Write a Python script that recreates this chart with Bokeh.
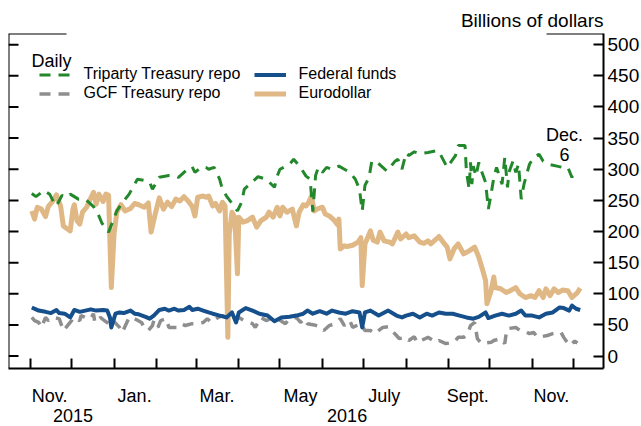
import pandas as pd
from bokeh.plotting import figure
from bokeh.models import (Range1d, LinearAxis, FixedTicker, Label, Legend, LegendItem,
                          ColumnDataSource, Title, Whisker, Span)
from bokeh.embed import file_html
from bokeh.resources import INLINE

FONT = "Liberation Sans"

# ---------------- data (billions of dollars, daily) ----------------
eurodollar_dates = [
    "2015-11-02", "2015-11-04", "2015-11-06", "2015-11-09", "2015-11-12", "2015-11-14",
    "2015-11-17", "2015-11-20", "2015-11-21", "2015-11-23", "2015-11-25", "2015-11-28",
    "2015-11-30", "2015-12-02", "2015-12-03", "2015-12-05", "2015-12-07", "2015-12-09",
    "2015-12-12", "2015-12-14", "2015-12-17", "2015-12-19", "2015-12-21", "2015-12-24",
    "2015-12-26", "2015-12-28", "2015-12-30", "2016-01-01", "2016-01-03", "2016-01-06",
    "2016-01-09", "2016-01-13", "2016-01-16", "2016-01-19", "2016-01-23", "2016-01-26",
    "2016-01-28", "2016-01-31", "2016-02-03", "2016-02-06", "2016-02-09", "2016-02-12",
    "2016-02-15", "2016-02-18", "2016-02-21", "2016-02-24", "2016-02-27", "2016-02-29",
    "2016-03-02", "2016-03-06", "2016-03-08", "2016-03-10", "2016-03-13", "2016-03-15",
    "2016-03-18", "2016-03-20", "2016-03-22", "2016-03-24", "2016-03-25", "2016-03-27",
    "2016-03-29", "2016-03-31", "2016-04-01", "2016-04-04", "2016-04-07", "2016-04-11",
    "2016-04-14", "2016-04-17", "2016-04-21", "2016-04-23", "2016-04-26", "2016-04-29",
    "2016-05-01", "2016-05-03", "2016-05-06", "2016-05-10", "2016-05-13", "2016-05-15",
    "2016-05-18", "2016-05-20", "2016-05-22", "2016-05-24", "2016-05-26", "2016-05-28",
    "2016-06-01", "2016-06-03", "2016-06-06", "2016-06-10", "2016-06-12", "2016-06-13",
    "2016-06-14", "2016-06-17", "2016-06-19", "2016-06-23", "2016-06-27", "2016-06-29",
    "2016-06-30", "2016-07-02", "2016-07-06", "2016-07-08", "2016-07-11", "2016-07-13",
    "2016-07-16", "2016-07-20", "2016-07-22", "2016-07-26", "2016-07-28", "2016-08-01",
    "2016-08-03", "2016-08-07", "2016-08-11", "2016-08-14", "2016-08-17", "2016-08-19",
    "2016-08-23", "2016-08-25", "2016-08-28", "2016-08-31", "2016-09-02", "2016-09-05",
    "2016-09-08", "2016-09-10", "2016-09-12", "2016-09-16", "2016-09-20", "2016-09-23",
    "2016-09-26", "2016-09-28", "2016-09-29", "2016-10-02", "2016-10-04", "2016-10-05",
    "2016-10-09", "2016-10-13", "2016-10-16", "2016-10-20", "2016-10-23", "2016-10-27",
    "2016-10-31", "2016-11-03", "2016-11-06", "2016-11-09", "2016-11-11", "2016-11-14",
    "2016-11-17", "2016-11-20", "2016-11-23", "2016-11-27", "2016-11-30", "2016-12-04",
    "2016-12-06",
]
eurodollar_values = [
    233, 220, 239, 236, 224, 240, 248, 259, 252, 241, 209, 204,
    201, 236, 243, 217, 212, 231, 239, 249, 263, 244, 260, 248,
    260, 258, 110, 196, 231, 243, 233, 237, 245, 243, 239, 246,
    199, 228, 254, 236, 247, 240, 252, 249, 256, 249, 240, 225,
    255, 257, 255, 257, 241, 245, 233, 247, 241, 30, 196, 231,
    223, 132, 223, 215, 217, 223, 207, 217, 223, 231, 223, 239,
    225, 239, 231, 236, 209, 231, 243, 241, 247, 257, 233, 236,
    239, 228, 225, 217, 211, 220, 172, 177, 176, 178, 183, 190,
    113, 180, 201, 186, 183, 199, 185, 183, 180, 199, 188, 196,
    190, 193, 183, 181, 185, 180, 188, 192, 183, 175, 156, 172,
    180, 172, 164, 169, 175, 159, 137, 121, 84, 105, 127, 110,
    108, 102, 105, 110, 100, 94, 97, 94, 105, 94, 108, 97,
    108, 102, 106, 105, 94, 102, 109,
]

triparty_dates = [
    "2015-11-02", "2015-11-05", "2015-11-11", "2015-11-15", "2015-11-18", "2015-11-20",
    "2015-11-24", "2015-11-28", "2015-11-30", "2015-12-06", "2015-12-11", "2015-12-17",
    "2015-12-20", "2015-12-23", "2015-12-28", "2016-01-03", "2016-01-07", "2016-01-12",
    "2016-01-14", "2016-01-18", "2016-01-23", "2016-01-27", "2016-01-29", "2016-02-03",
    "2016-02-10", "2016-02-14", "2016-02-17", "2016-02-22", "2016-02-25", "2016-02-27",
    "2016-02-29", "2016-03-05", "2016-03-08", "2016-03-10", "2016-03-14", "2016-03-18",
    "2016-03-20", "2016-03-23", "2016-03-31", "2016-04-03", "2016-04-05", "2016-04-09",
    "2016-04-15", "2016-04-21", "2016-04-27", "2016-04-29", "2016-05-01", "2016-05-08",
    "2016-05-11", "2016-05-16", "2016-05-20", "2016-05-23", "2016-05-25", "2016-05-27",
    "2016-05-29", "2016-06-01", "2016-06-04", "2016-06-08", "2016-06-13", "2016-06-17",
    "2016-06-21", "2016-06-25", "2016-06-28", "2016-06-30", "2016-07-02", "2016-07-05",
    "2016-07-07", "2016-07-11", "2016-07-15", "2016-07-18", "2016-07-24", "2016-07-26",
    "2016-07-29", "2016-08-01", "2016-08-03", "2016-08-07", "2016-08-11", "2016-08-17",
    "2016-08-24", "2016-08-26", "2016-08-31", "2016-09-06", "2016-09-08", "2016-09-13",
    "2016-09-14", "2016-09-16", "2016-09-17", "2016-09-18", "2016-09-19", "2016-09-21",
    "2016-09-23", "2016-09-25", "2016-09-28", "2016-09-30", "2016-10-02", "2016-10-04",
    "2016-10-06", "2016-10-10", "2016-10-12", "2016-10-14", "2016-10-15", "2016-10-18",
    "2016-10-20", "2016-10-22", "2016-10-24", "2016-10-26", "2016-10-30", "2016-11-02",
    "2016-11-06", "2016-11-09", "2016-11-13", "2016-11-19", "2016-11-23", "2016-11-27",
    "2016-11-30", "2016-12-03",
]
triparty_values = [
    261, 256, 266, 260, 247, 241, 258, 255, 260, 252, 252, 240,
    230, 214, 199, 233, 246, 260, 268, 284, 282, 279, 268, 287,
    290, 290, 287, 297, 303, 304, 295, 304, 303, 300, 303, 284,
    268, 257, 233, 247, 268, 276, 288, 284, 271, 289, 300, 308,
    316, 303, 289, 284, 232, 290, 303, 295, 303, 300, 305, 300,
    295, 284, 268, 233, 274, 287, 313, 311, 303, 297, 313, 316,
    300, 326, 322, 328, 325, 327, 330, 324, 303, 322, 338, 338,
    297, 268, 311, 276, 305, 289, 311, 297, 279, 236, 260, 287,
    303, 276, 319, 271, 295, 313, 295, 308, 252, 276, 308, 319,
    324, 313, 308, 305, 303, 303, 287, 300,
]

fedfunds_dates = [
    "2015-11-02", "2015-11-05", "2015-11-07", "2015-11-12", "2015-11-16", "2015-11-20",
    "2015-11-22", "2015-11-26", "2015-11-30", "2015-12-03", "2015-12-07", "2015-12-11",
    "2015-12-15", "2015-12-19", "2015-12-24", "2015-12-27", "2015-12-29", "2015-12-30",
    "2016-01-02", "2016-01-05", "2016-01-08", "2016-01-13", "2016-01-16", "2016-01-19",
    "2016-01-24", "2016-01-27", "2016-01-30", "2016-02-03", "2016-02-07", "2016-02-10",
    "2016-02-14", "2016-02-17", "2016-02-21", "2016-02-25", "2016-02-27", "2016-03-02",
    "2016-03-06", "2016-03-10", "2016-03-13", "2016-03-18", "2016-03-23", "2016-03-27",
    "2016-03-30", "2016-04-01", "2016-04-06", "2016-04-11", "2016-04-16", "2016-04-22",
    "2016-04-27", "2016-05-02", "2016-05-08", "2016-05-13", "2016-05-18", "2016-05-21",
    "2016-05-25", "2016-05-30", "2016-06-04", "2016-06-08", "2016-06-13", "2016-06-18",
    "2016-06-23", "2016-06-28", "2016-06-30", "2016-07-02", "2016-07-06", "2016-07-12",
    "2016-07-19", "2016-07-25", "2016-07-29", "2016-08-01", "2016-08-06", "2016-08-11",
    "2016-08-16", "2016-08-20", "2016-08-25", "2016-08-30", "2016-09-04", "2016-09-09",
    "2016-09-14", "2016-09-19", "2016-09-23", "2016-09-28", "2016-09-30", "2016-10-05",
    "2016-10-10", "2016-10-15", "2016-10-20", "2016-10-24", "2016-10-27", "2016-11-01",
    "2016-11-06", "2016-11-11", "2016-11-16", "2016-11-21", "2016-11-24", "2016-11-28",
    "2016-11-30", "2016-12-03", "2016-12-06",
]
fedfunds_values = [
    78, 75, 73, 71, 69, 74, 69, 68, 62, 74, 71, 73,
    75, 73, 74, 73, 62, 46, 68, 70, 69, 73, 68, 67,
    63, 60, 65, 74, 76, 73, 76, 73, 74, 79, 74, 76,
    73, 70, 68, 65, 62, 70, 54, 70, 77, 73, 68, 65,
    56, 62, 63, 65, 68, 73, 68, 72, 68, 73, 70, 68,
    72, 70, 46, 70, 73, 65, 73, 65, 62, 65, 68, 62,
    68, 65, 70, 68, 68, 65, 62, 60, 63, 70, 61, 65,
    68, 65, 68, 73, 65, 65, 62, 68, 70, 78, 77, 73,
    81, 76, 74,
]

gcf_dates = [
    "2015-11-02", "2015-11-04", "2015-11-07", "2015-11-09", "2015-11-12", "2015-11-14",
    "2015-11-17", "2015-11-22", "2015-11-25", "2015-11-27", "2015-12-01", "2015-12-02",
    "2015-12-07", "2015-12-08", "2015-12-11", "2015-12-13", "2015-12-15", "2015-12-17",
    "2015-12-18", "2015-12-22", "2015-12-25", "2015-12-28", "2015-12-30", "2016-01-05",
    "2016-01-07", "2016-01-12", "2016-01-16", "2016-01-21", "2016-01-23", "2016-01-26",
    "2016-01-29", "2016-01-30", "2016-02-02", "2016-02-04", "2016-02-08", "2016-02-10",
    "2016-02-16", "2016-02-19", "2016-02-22", "2016-02-27", "2016-03-02", "2016-03-06",
    "2016-03-09", "2016-03-12", "2016-03-17", "2016-03-20", "2016-03-26", "2016-04-01",
    "2016-04-05", "2016-04-11", "2016-04-13", "2016-04-17", "2016-04-21", "2016-04-26",
    "2016-04-29", "2016-05-05", "2016-05-08", "2016-05-13", "2016-05-16", "2016-05-19",
    "2016-05-21", "2016-05-26", "2016-05-31", "2016-06-02", "2016-06-06", "2016-06-10",
    "2016-06-14", "2016-06-17", "2016-06-21", "2016-06-23", "2016-06-29", "2016-07-02",
    "2016-07-06", "2016-07-09", "2016-07-15", "2016-07-19", "2016-07-25", "2016-07-27",
    "2016-08-01", "2016-08-03", "2016-08-07", "2016-08-09", "2016-08-17", "2016-08-23",
    "2016-08-25", "2016-08-30", "2016-09-05", "2016-09-08", "2016-09-12", "2016-09-15",
    "2016-09-17", "2016-09-20", "2016-09-22", "2016-09-25", "2016-10-02", "2016-10-04",
    "2016-10-09", "2016-10-12", "2016-10-13", "2016-10-14", "2016-10-20", "2016-10-23",
    "2016-10-26", "2016-10-30", "2016-11-02", "2016-11-05", "2016-11-12", "2016-11-16",
    "2016-11-22", "2016-11-24", "2016-11-28", "2016-11-30", "2016-12-02", "2016-12-04",
]
gcf_values = [
    62, 57, 54, 46, 62, 57, 62, 60, 41, 46, 57, 62,
    57, 65, 62, 62, 60, 68, 54, 62, 57, 52, 60, 46,
    38, 62, 60, 54, 46, 41, 49, 57, 46, 57, 60, 46,
    46, 52, 49, 52, 52, 54, 60, 54, 62, 65, 58, 62,
    57, 52, 46, 62, 57, 62, 60, 52, 60, 62, 54, 60,
    52, 50, 46, 41, 49, 52, 60, 49, 57, 46, 52, 41,
    41, 36, 46, 47, 33, 28, 30, 25, 31, 22, 30, 22,
    25, 20, 22, 30, 30, 36, 49, 54, 28, 20, 22, 25,
    28, 20, 36, 44, 46, 41, 41, 36, 38, 30, 33, 36,
    38, 30, 17, 20, 24, 21,
]

# ---------------- axis content ----------------
y_ticks = [0, 50, 100, 150, 200, 250, 300, 350, 400, 450, 500]
month_starts = ["2015-11-01", "2015-12-01", "2016-01-01", "2016-02-01", "2016-03-01",
                "2016-04-01", "2016-05-01", "2016-06-01", "2016-07-01", "2016-08-01",
                "2016-09-01", "2016-10-01", "2016-11-01", "2016-12-01"]
month_label_dates = ["2015-11-15", "2016-01-16", "2016-03-16", "2016-05-16",
                     "2016-07-16", "2016-09-15", "2016-11-15"]
month_labels = ["Nov.", "Jan.", "Mar.", "May", "July", "Sept.", "Nov."]
year_label_dates = ["2015-12-02", "2016-06-19"]
year_labels = ["2015", "2016"]

X_START, X_END = "2015-10-16", "2016-12-23"
Y_START, Y_END = -20, 518

# ---------------- colours ----------------
C_TRI = "#23882b"
C_GCF = "#8e8e8e"
C_FF = "#154f8c"
C_ED = "#e0b886"

FRAME_W, FRAME_H = 595, 335


def ms(d):
    return float(pd.Timestamp(d).value // 10**6)


p = figure(frame_width=FRAME_W, frame_height=FRAME_H,
           x_axis_type=None, y_axis_type=None,
           x_range=Range1d(ms(X_START), ms(X_END)),
           y_range=Range1d(Y_START, Y_END),
           output_backend="svg", toolbar_location=None,
           min_border_left=8, min_border_right=0, min_border_top=33,
           min_border_bottom=0)
p.outline_line_color = None
p.background_fill_color = "white"
p.border_fill_color = "white"


def src(dates, vals):
    return ColumnDataSource(dict(x=[ms(d) for d in dates], y=vals))


r_gcf = p.line("x", "y", source=src(gcf_dates, gcf_values), line_color=C_GCF,
               line_width=3.5, line_dash="11 8")
r_ed = p.line("x", "y", source=src(eurodollar_dates, eurodollar_values), line_color=C_ED,
              line_width=5, line_join="round")
r_ff = p.line("x", "y", source=src(fedfunds_dates, fedfunds_values), line_color=C_FF,
              line_width=4, line_join="round")
r_tri = p.line("x", "y", source=src(triparty_dates, triparty_values), line_color=C_TRI,
               line_width=3, line_dash="11 8")

# ---------------- frame pieces ----------------
# left frame line
p.add_layout(Span(location=0, location_units="screen", dimension="height",
                  line_color="black", line_width=2))
# left inward ticks (no labels on the left)
left_ticks = ColumnDataSource(dict(y=y_ticks, lo=[0] * len(y_ticks), hi=[10] * len(y_ticks)))
p.add_layout(Whisker(source=left_ticks, base="y", lower="lo", upper="hi", dimension="width",
                     lower_units="screen", upper_units="screen", lower_head=None,
                     upper_head=None, line_color="black", line_width=2))
# top frame line, open above the legend
top_line = ColumnDataSource(dict(y=[Y_END, Y_END], lo=[0, FRAME_W - 57], hi=[58, FRAME_W]))
p.add_layout(Whisker(source=top_line, base="y", lower="lo", upper="hi", dimension="width",
                     lower_units="screen", upper_units="screen", lower_head=None,
                     upper_head=None, line_color="black", line_width=2))

# ---------------- axes ----------------
yt = FixedTicker(ticks=y_ticks)
right = LinearAxis(ticker=yt, major_tick_in=10, major_tick_out=0,
                   minor_tick_line_color=None, axis_line_width=2,
                   major_tick_line_width=2, major_label_standoff=4,
                   major_label_text_font=FONT, major_label_text_font_size="19px",
                   major_label_text_color="black")
p.add_layout(right, "right")

xt = FixedTicker(ticks=[ms(d) for d in month_label_dates],
                 minor_ticks=[ms(d) for d in month_starts])
xa = LinearAxis(ticker=xt, major_tick_line_color=None, major_tick_in=0, major_tick_out=0,
                minor_tick_in=10, minor_tick_out=0, minor_tick_line_width=2,
                minor_tick_line_color="black", axis_line_width=2,
                major_label_overrides={ms(d): t for d, t in zip(month_label_dates, month_labels)},
                major_label_standoff=17, major_label_text_font=FONT,
                major_label_text_font_size="18px", major_label_text_color="black")
p.add_layout(xa, "below")
ya = LinearAxis(ticker=FixedTicker(ticks=[ms(d) for d in year_label_dates]),
                axis_line_color=None, major_tick_line_color=None, minor_tick_line_color=None,
                major_tick_in=0, major_tick_out=0,
                major_label_overrides={ms(d): t for d, t in zip(year_label_dates, year_labels)},
                major_label_standoff=0, major_label_text_font=FONT,
                major_label_text_font_size="18px", major_label_text_color="black")
p.add_layout(ya, "below")

p.add_layout(Title(text="Billions of dollars", align="right", text_font=FONT,
                   text_font_size="19px", text_font_style="normal", text_color="black",
                   standoff=5), "above")

# ---------------- legend & texts ----------------
legend = Legend(items=[LegendItem(label="Triparty Treasury repo", renderers=[r_tri]),
                       LegendItem(label="GCF Treasury repo", renderers=[r_gcf]),
                       LegendItem(label="Federal funds", renderers=[r_ff]),
                       LegendItem(label="Eurodollar", renderers=[r_ed])],
                location=(30.5, FRAME_H - 69.5), nrows=2, orientation="vertical",
                border_line_color=None, background_fill_alpha=0, padding=0, margin=0,
                spacing=0, glyph_width=32, glyph_height=19, label_height=19,
                label_width=170, label_standoff=13, label_text_font=FONT,
                label_text_font_size="16px", label_text_color="black")
p.add_layout(legend)

common = dict(x_units="screen", y_units="screen", text_font=FONT, text_color="black",
              text_font_size="18px", text_baseline="alphabetic")
p.add_layout(Label(x=23, y=FRAME_H - 27, text="Daily", text_align="left", **common))
p.add_layout(Label(x=556, y=FRAME_H - 101, text="Dec.", text_align="center", **common))
p.add_layout(Label(x=556, y=FRAME_H - 121, text="6", text_align="center", **common))

open("out.html", "w").write(file_html(p, INLINE))
